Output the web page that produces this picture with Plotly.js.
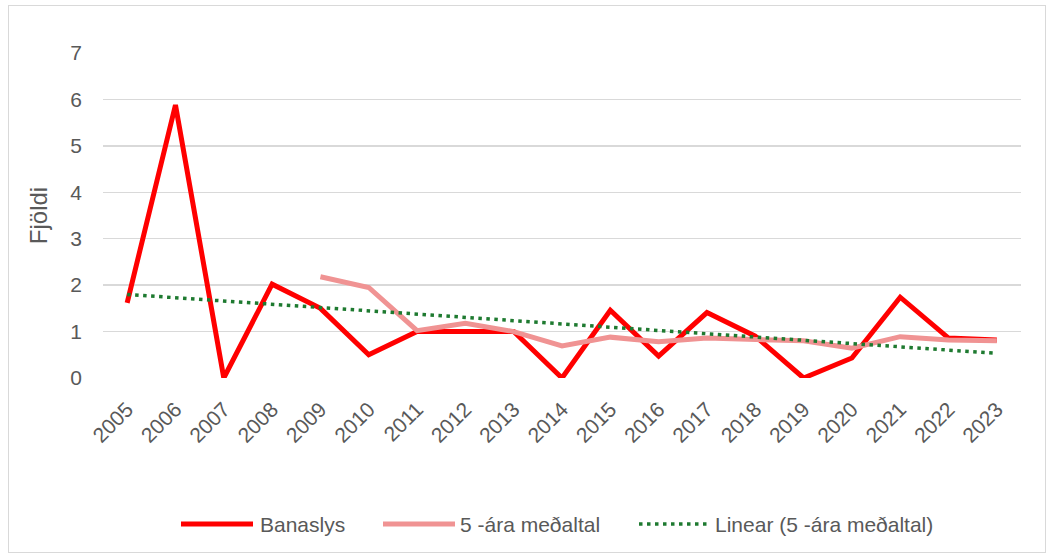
<!DOCTYPE html>
<html>
<head>
<meta charset="utf-8">
<script src="https://cdn.plot.ly/plotly-3.0.1.min.js"></script>
<style>
  html, body { margin: 0; padding: 0; background: #ffffff; }
  #wrap { position: relative; width: 1047px; height: 553px; }
  #chart { position: absolute; left: 0; top: 0; width: 1047px; height: 553px; }
  #frame { position: absolute; left: 8px; top: 5px; width: 1036px; height: 546px;
           border: 1px solid #d9d9d9; pointer-events: none; }
</style>
</head>
<body>
<div id="wrap">
  <div id="chart"></div>
  <div id="frame"></div>
</div>
<script>
// ---- Data ----
const years = ['2005','2006','2007','2008','2009','2010','2011','2012','2013','2014',
               '2015','2016','2017','2018','2019','2020','2021','2022','2023'];
const banaslys = [1.62, 5.88, 0, 2.02, 1.5, 0.5, 1.0, 1.0, 1.0, 0,
                  1.46, 0.47, 1.41, 0.9, 0, 0.43, 1.74, 0.86, 0.82];
const avgYears = ['2009','2010','2011','2012','2013','2014','2015','2016','2017','2018',
                  '2019','2020','2021','2022','2023'];
const avg5 = [2.18, 1.95, 1.02, 1.18, 1.0, 0.69, 0.88, 0.78, 0.86, 0.83,
              0.80, 0.64, 0.89, 0.82, 0.80];
const trendYears = ['2005', '2023'];
const trendValues = [1.80, 0.53];
const yTicks = [0, 1, 2, 3, 4, 5, 6, 7];
const seriesNames = ['Banaslys', '5 -ára meðaltal', 'Linear (5 -ára meðaltal)'];
const yTitle = 'Fjöldi';

// ---- Layout geometry ----
const W = 1047, H = 553;
const M = { l: 103, r: 26, t: 53, b: 175 };
const PW = W - M.l - M.r, PH = H - M.t - M.b;
const px2x = px => (px - M.l) / PW;
const py2y = py => (H - M.b - py) / PH;

const RED = '#ff0000', PINK = '#f09393', GREEN = '#1e7a30';
const TXT = '#595959';
const tickFont = { family: 'Liberation Sans, Arial, sans-serif', size: 21, color: TXT };
const legFont = { family: 'Liberation Sans, Arial, sans-serif', size: 21, color: TXT };

const traces = [
  { x: years, y: banaslys, type: 'scatter', mode: 'lines', name: seriesNames[0],
    line: { color: RED, width: 5 }, hoverinfo: 'x+y' },
  { x: avgYears, y: avg5, type: 'scatter', mode: 'lines', name: seriesNames[1],
    line: { color: PINK, width: 5 }, hoverinfo: 'x+y' },
  { x: trendYears, y: trendValues, type: 'scatter', mode: 'lines', name: seriesNames[2],
    line: { color: GREEN, width: 3.5, dash: '3.5px,4.5px' }, hoverinfo: 'skip' }
];

// custom legend (long line samples like the original)
const legY = py2y(524);
const legItems = [
  { x0: 181, x1: 253, tx: 258, color: RED, width: 5, dash: 'solid', text: seriesNames[0] },
  { x0: 383, x1: 455, tx: 458, color: PINK, width: 5, dash: 'solid', text: seriesNames[1] },
  { x0: 639, x1: 709, tx: 713, color: GREEN, width: 3.5, dash: '3.5px,4.5px', text: seriesNames[2] }
];
const shapes = legItems.map(it => ({
  type: 'line', xref: 'paper', yref: 'paper',
  x0: px2x(it.x0), x1: px2x(it.x1), y0: legY, y1: legY,
  line: { color: it.color, width: it.width, dash: it.dash }
}));
const annotations = legItems.map(it => ({
  xref: 'paper', yref: 'paper', x: px2x(it.tx), y: legY,
  xanchor: 'left', yanchor: 'middle', showarrow: false,
  text: it.text, font: legFont
}));

const layout = {
  width: W, height: H,
  margin: M,
  paper_bgcolor: '#ffffff', plot_bgcolor: '#ffffff',
  showlegend: false,
  xaxis: {
    type: 'category', categoryorder: 'array', categoryarray: years,
    range: [-0.5, years.length - 0.5],
    showgrid: false, zeroline: false, showline: false, ticks: '',
    tickangle: -45, tickfont: tickFont, ticklabelstandoff: 14, fixedrange: true
  },
  yaxis: {
    range: [0, 7], tickvals: yTicks, ticktext: yTicks.map(String),
    showgrid: true, gridcolor: '#d9d9d9', gridwidth: 1.5,
    zeroline: false, showline: false, ticks: '',
    tickfont: tickFont, ticklabelstandoff: 20,
    title: { text: yTitle, font: { family: 'Liberation Sans, Arial, sans-serif', size: 24, color: TXT }, standoff: 15 },
    fixedrange: true
  },
  shapes: shapes,
  annotations: annotations
};

Plotly.newPlot('chart', traces, layout, { displayModeBar: false, staticPlot: true });
</script>
</body>
</html>
